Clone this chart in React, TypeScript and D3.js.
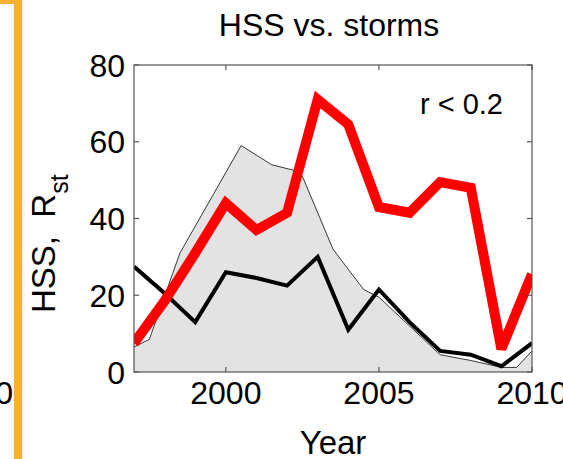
import React from "react";
import * as d3 from "d3";

const years = [1997, 1998, 1999, 2000, 2001, 2002, 2003, 2004, 2005, 2006, 2007, 2008, 2009, 2010];
const hssValues = [7.5, 18.5, 31, 44, 37, 41.5, 71, 64.5, 43, 41.5, 49.5, 48, 6, 25.5];
const rstValues = [27.5, 20.5, 13, 26, 24.5, 22.5, 30, 11, 21.5, 13, 5.5, 4.5, 1.5, 7.5];
const stormYears = [1997, 1997.5, 1998.5, 2000.5, 2001.5, 2002.2, 2002.5, 2003.5, 2004.5, 2005, 2006, 2007, 2008, 2009, 2009.5, 2010];
const stormValues = [6.5, 8.5, 31, 59, 54, 52.6, 51, 32, 21.5, 19.5, 12, 4.5, 3, 1.2, 1.2, 5.5];
const xTicks = [2000, 2005, 2010];
const yTicks = [0, 20, 40, 60, 80];

const W = 563;
const H = 459;
const L = 134, R = 532, T = 65, B = 372;
const FONT = "Liberation Sans, Arial, Helvetica, sans-serif";

export default function App() {
  const x = d3.scaleLinear().domain([1997, 2010]).range([L, R]);
  const y = d3.scaleLinear().domain([0, 80]).range([B, T]);

  const area = d3.area<number>()
    .x((_, i) => x(stormYears[i]))
    .y0(y(0))
    .y1((d) => y(d));
  const areaTop = d3.line<number>()
    .x((_, i) => x(stormYears[i]))
    .y((d) => y(d));
  const line = d3.line<number>()
    .x((_, i) => x(years[i]))
    .y((d) => y(d));

  const tk = 5;

  return (
    <svg width={W} height={H} style={{ position: "absolute", left: 0, top: 0, background: "#fff" }}>
      <defs>
        <clipPath id="plotclip">
          <rect x={L} y={T} width={R - L} height={B - T} />
        </clipPath>
      </defs>
      <rect x={0} y={0} width={W} height={H} fill="#fff" />

      {/* neighbouring panel fragments */}
      <rect x={11} y={0} width={14} height={H} fill="#eeeeee" opacity={0.5} />
      <rect x={14} y={0} width={8} height={H} fill="#fbb034" />
      <rect x={0} y={0} width={22} height={4} fill="#fbb034" />
      <text x={13} y={404} fontFamily={FONT} fontSize={32} textAnchor="end" fill="#000">2010</text>

      {/* title */}
      <text x={(L + R) / 2 - 4} y={36} fontFamily={FONT} fontSize={32} textAnchor="middle" fill="#000">HSS vs. storms</text>

      {/* data */}
      <g clipPath="url(#plotclip)">
        <path d={area(stormValues) || ""} fill="#e3e3e3" />
        <path d={areaTop(stormValues) || ""} fill="none" stroke="#222" strokeWidth={0.9} />
        <path d={line(rstValues) || ""} fill="none" stroke="#000" strokeWidth={4} strokeLinejoin="miter" strokeMiterlimit={3} />
        <path d={line(hssValues) || ""} fill="none" stroke="#ff0000" strokeWidth={10} strokeLinejoin="miter" strokeMiterlimit={2.2} />
      </g>

      {/* axes box */}
      <rect x={L} y={T} width={R - L} height={B - T} fill="none" stroke="#555" strokeWidth={1.2} />

      {/* ticks */}
      {yTicks.map((v) => (
        <g key={"y" + v}>
          <line x1={L} x2={L + tk} y1={y(v)} y2={y(v)} stroke="#555" strokeWidth={1.2} />
          <line x1={R} x2={R - tk} y1={y(v)} y2={y(v)} stroke="#555" strokeWidth={1.2} />
          <text x={L - 9} y={y(v) + 11.5} fontFamily={FONT} fontSize={32} textAnchor="end" fill="#000">{v}</text>
        </g>
      ))}
      {xTicks.map((v) => (
        <g key={"x" + v}>
          <line x1={x(v)} x2={x(v)} y1={B} y2={B - tk} stroke="#555" strokeWidth={1.2} />
          <line x1={x(v)} x2={x(v)} y1={T} y2={T + tk} stroke="#555" strokeWidth={1.2} />
          <text x={x(v)} y={404} fontFamily={FONT} fontSize={32} textAnchor="middle" fill="#000">{v}</text>
        </g>
      ))}

      {/* annotation */}
      <text x={503} y={114} fontFamily={FONT} fontSize={29} textAnchor="end" fill="#000" style={{ whiteSpace: "pre" }}>r &lt; 0.2</text>

      {/* axis labels */}
      <text x={(L + R) / 2} y={454} fontFamily={FONT} fontSize={33} textAnchor="middle" fill="#000">Year</text>
      <text transform={`translate(55, 313) rotate(-90)`} fontFamily={FONT} fontSize={33} textAnchor="start" fill="#000" style={{ whiteSpace: "pre" }}>
        <tspan>{"HSS,  R"}</tspan>
        <tspan fontSize={25} dy={13}>st</tspan>
      </text>
    </svg>
  );
}
